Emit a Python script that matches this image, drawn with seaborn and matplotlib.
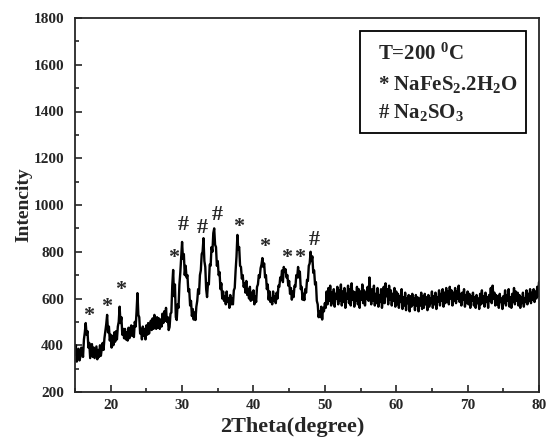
import numpy as np
import matplotlib
matplotlib.use("Agg")
import matplotlib.pyplot as plt
import seaborn as sns
from matplotlib.patches import Rectangle
from matplotlib.ticker import MultipleLocator

# ---------------- data ----------------
theta_start, theta_end = 15.0, 80.0
intensity_low = [  # 15.000 ... 50.000, every 0.125 deg
    360, 400, 330, 375, 385, 335, 350, 390,
    385, 350, 425, 455, 495, 445, 460, 390,
    410, 345, 375, 405, 350, 390, 345, 370,
    395, 340, 380, 350, 400, 355, 385, 410,
    380, 430, 460, 490, 530, 455, 480, 420,
    445, 390, 440, 400, 455, 415, 460, 425,
    480, 500, 565, 495, 520, 445, 470, 430,
    470, 425, 455, 420, 475, 430, 465, 485,
    440, 480, 435, 500, 480, 545, 623, 530,
    520, 450, 470, 425, 480, 440, 470, 425,
    485, 445, 495, 450, 480, 505, 465, 515,
    470, 530, 490, 470, 520, 475, 515, 470,
    510, 480, 535, 495, 545, 505, 560, 500,
    520, 465, 478, 535, 540, 655, 722, 610,
    660, 520, 508, 575, 560, 660, 710, 780,
    842, 770, 790, 700, 740, 690, 700, 630,
    640, 570, 590, 525, 555, 510, 540, 508,
    565, 590, 640, 620, 700, 720, 790, 800,
    858, 760, 735, 640, 606, 665, 660, 745,
    740, 820, 800, 880, 900, 830, 820, 740,
    760, 700, 713, 640, 665, 600, 630, 590,
    610, 575, 630, 585, 600, 560, 615, 575,
    600, 575, 635, 645, 720, 780, 872, 810,
    820, 740, 735, 685, 700, 650, 665, 625,
    675, 615, 640, 600, 650, 590, 625, 595,
    635, 575, 610, 585, 650, 660, 700, 690,
    730, 745, 773, 735, 750, 690, 700, 640,
    660, 595, 630, 585, 600, 575, 630, 590,
    610, 580, 625, 600, 655, 650, 690, 680,
    720, 670, 735, 715, 725, 690, 700, 655,
    675, 620, 645, 595, 630, 606, 655, 650,
    700, 690, 735, 690, 715, 640, 650, 595,
    620, 593, 640, 625, 680, 675, 740, 750,
    800, 760, 780, 710, 720, 660, 670, 590,
    575, 520, 545, 520, 565, 510, 560, 545,
    580,
]
intensity_high = [  # 50.125 ... 80.000, every 0.125 deg
    560, 630, 575, 645, 590, 655, 570, 625,
    580, 640, 565, 620, 600, 650, 575, 635,
    590, 660, 570, 630, 585, 645, 560, 620,
    600, 655, 580, 640, 570, 665, 595, 630,
    565, 625, 590, 650, 575, 640, 560, 630,
    595, 660, 580, 635, 570, 625, 600, 650,
    590, 690, 610, 575, 640, 590, 655, 570,
    620, 580, 645, 565, 615, 585, 640, 560,
    600, 650, 580, 665, 610, 640, 575, 655,
    595, 635, 570, 620, 590, 645, 565, 630,
    575, 620, 560, 610, 585, 640, 555, 605,
    570, 625, 550, 600, 580, 615, 545, 610,
    565, 620, 575, 600, 550, 615, 570, 605,
    545, 600, 570, 625, 555, 610, 560, 620,
    575, 605, 550, 615, 565, 600, 580, 630,
    560, 610, 575, 625, 555, 605, 585, 635,
    570, 620, 590, 640, 565, 625, 580, 645,
    585, 630, 575, 650, 600, 635, 570, 625,
    590, 645, 580, 630, 600, 655, 585, 620,
    570, 625, 595, 640, 565, 615, 580, 630,
    575, 620, 560, 610, 590, 625, 570, 605,
    560, 615, 580, 600, 555, 620, 575, 635,
    580, 610, 565, 625, 585, 605, 560, 615,
    590, 645, 580, 655, 600, 625, 570, 615,
    575, 610, 560, 620, 585, 600, 555, 610,
    580, 635, 570, 615, 590, 640, 565, 605,
    560, 620, 585, 645, 575, 630, 590, 625,
    570, 615, 560, 605, 580, 625, 565, 600,
    585, 635, 575, 620, 590, 640, 580, 625,
    595, 640, 585, 630, 600, 650, 610, 670,
]
intensity = intensity_low + intensity_high
two_theta = np.linspace(theta_start, theta_end, len(intensity))

star_x = [16.96, 19.48, 21.44, 28.87, 37.97, 41.5, 44.7, 46.5]
star_y = [525, 564, 636, 773, 906, 820, 773, 773]
hash_x = [30.13, 32.8, 34.9, 48.5]
hash_y = [914, 902, 957, 850]

legend_lines = [r"T=200 $^{0}$C", r"* NaFeS$_{2}$.2H$_{2}$O", r"# Na$_{2}$SO$_{3}$"]
x_ticks = [20, 30, 40, 50, 60, 70, 80]
y_ticks = [200, 400, 600, 800, 1000, 1200, 1400, 1600, 1800]

# ---------------- style ----------------
sns.set_style("ticks")
serif = ["Liberation Serif", "DejaVu Serif"]
plt.rcParams["font.family"] = serif
plt.rcParams["font.weight"] = "bold"
plt.rcParams["mathtext.fontset"] = "custom"
plt.rcParams["mathtext.rm"] = "Liberation Serif:bold"
plt.rcParams["mathtext.it"] = "Liberation Serif:bold"
plt.rcParams["mathtext.bf"] = "Liberation Serif:bold"
plt.rcParams["mathtext.default"] = "rm"

fig = plt.figure(figsize=(5.47, 4.37), dpi=100)
ax = fig.add_axes([75 / 547, 45 / 437, 464 / 547, 374 / 437])

sns.lineplot(x=two_theta, y=intensity, color="black", lw=1.7, ax=ax)

ax.set_xlim(15, 80)
ax.set_ylim(200, 1800)
ax.set_xticks(x_ticks)
ax.set_yticks(y_ticks)
ax.xaxis.set_minor_locator(MultipleLocator(5))
ax.yaxis.set_minor_locator(MultipleLocator(100))
ax.tick_params(which="both", direction="in", width=1.2, labelsize=11)
ax.tick_params(which="major", length=5)
ax.tick_params(which="minor", length=3)
ax.tick_params(axis="y", pad=8)
ax.tick_params(axis="x", pad=5)
for lab in ax.get_xticklabels() + ax.get_yticklabels():
    lab.set_fontweight("bold")
for sp in ax.spines.values():
    sp.set_visible(True)
    sp.set_linewidth(1.3)

ax.set_xlabel("2Theta(degree)", fontsize=16, fontweight="bold")
ax.xaxis.set_label_coords(0.468, -0.066)
ax.set_ylabel("Intencity", fontsize=14, fontweight="bold", labelpad=0.5)

for x, y in zip(star_x, star_y):
    ax.text(x, y, "*", fontsize=16, fontweight="bold", ha="center", va="center")
for x, y in zip(hash_x, hash_y):
    ax.text(x, y, "#", fontsize=16, fontweight="bold", ha="center", va="center")

ax.add_patch(Rectangle((0.614, 0.693), 0.358, 0.272, transform=ax.transAxes,
                       fill=False, edgecolor="black", lw=1.3))
for txt, yb in zip(legend_lines, [0.888, 0.807, 0.733]):
    ax.text(0.653, yb, txt, transform=ax.transAxes, fontsize=15,
            fontweight="bold", va="baseline", ha="left")

fig.savefig("out.png", dpi=100)
